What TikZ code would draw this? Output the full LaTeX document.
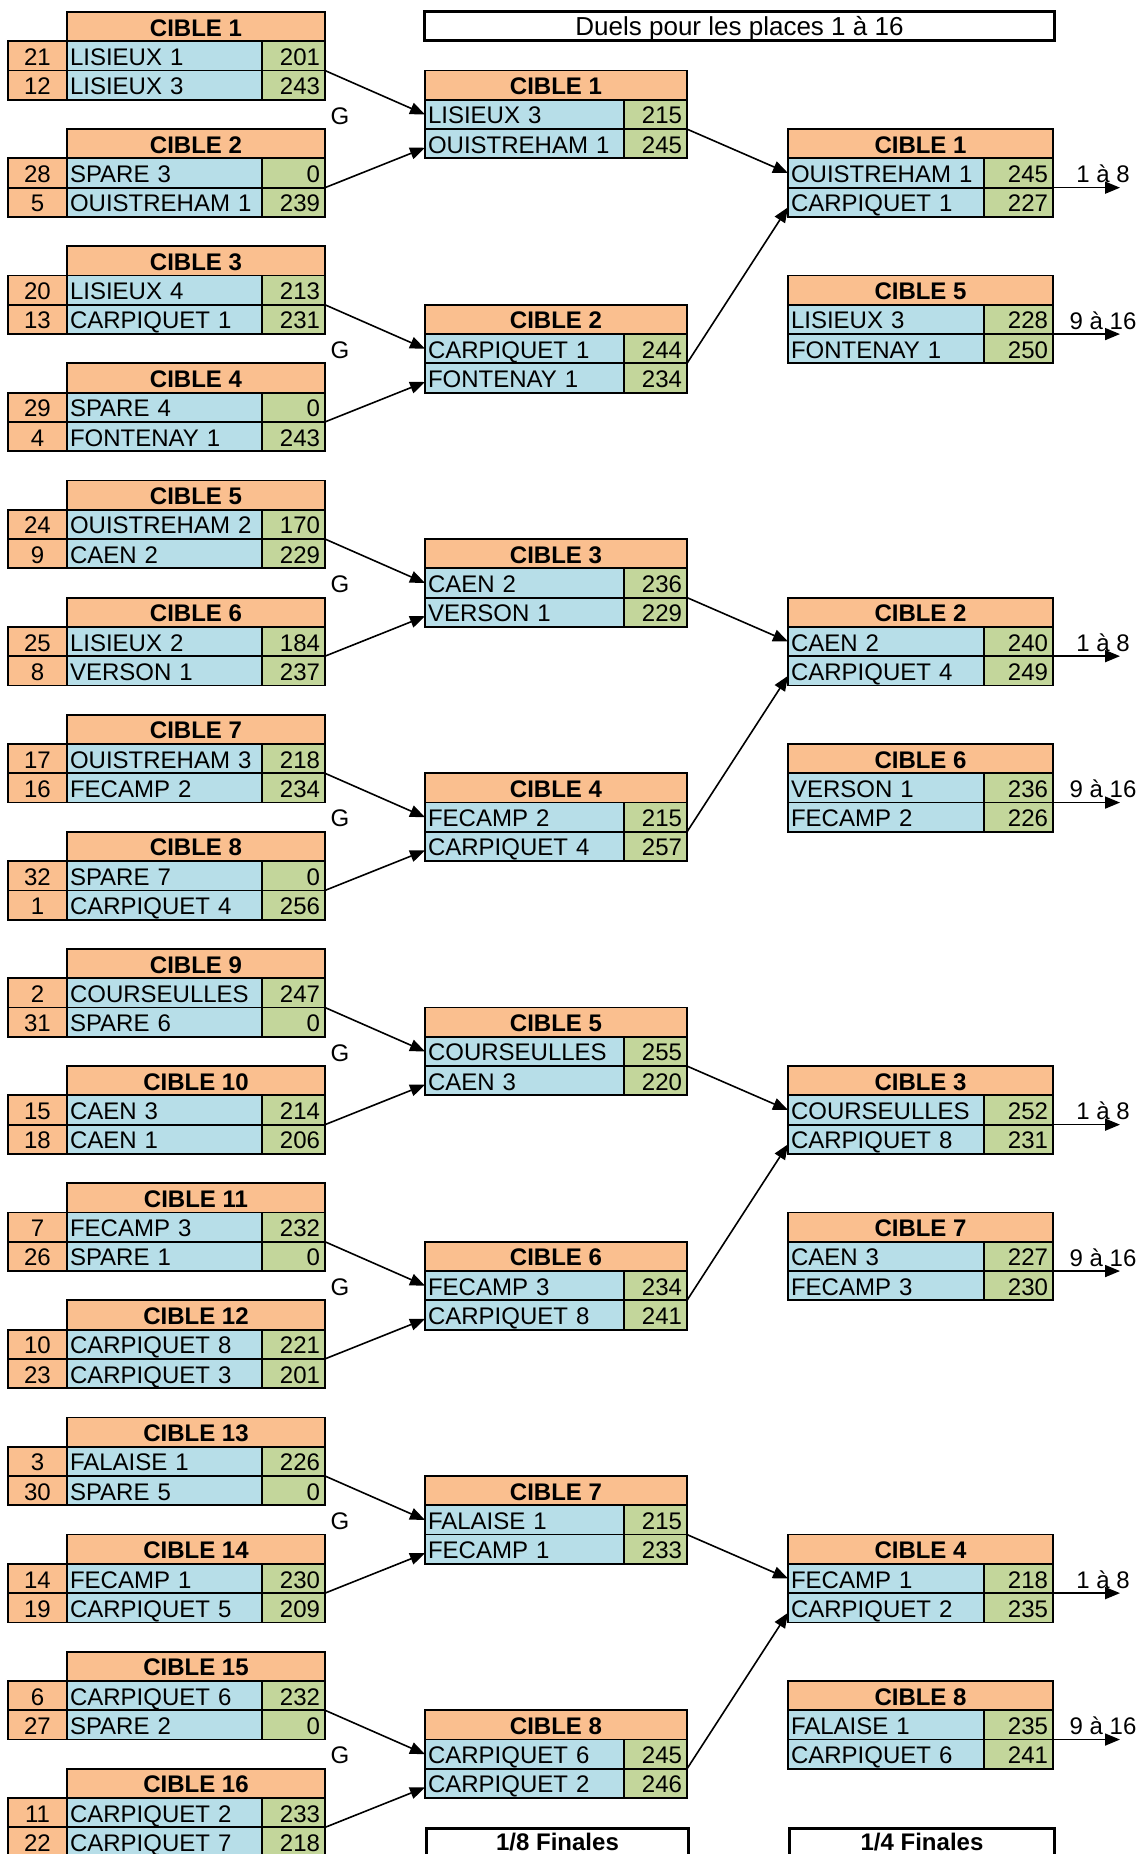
\documentclass[tikz,border=0pt]{standalone}
\usepackage{fontspec}
\setmainfont{Liberation Sans}
\usetikzlibrary{arrows.meta}
\definecolor{cor}{HTML}{FABF8F}
\definecolor{cbl}{HTML}{B7DEE8}
\definecolor{cgr}{HTML}{C3D69B}
\newcommand\myfs{\fontsize{24}{28}\selectfont}
\tikzset{
 cell/.style={draw=black, line width=1.8pt, minimum height=29.28pt, inner ysep=0pt, inner xsep=3pt,
   text height=19pt, text depth=0pt, font=\myfs, anchor=north west, outer sep=0pt},
 hd/.style={cell, fill=cor, font=\myfs\bfseries},
 sd/.style={cell, fill=cor, minimum width=59pt, align=center},
 nm/.style={cell, fill=cbl, align=left},
 sc/.style={cell, fill=cgr, align=right, inner xsep=5pt},
 arr/.style={line width=1.6pt, -{Triangle[length=15pt,width=12pt]}},
 plain/.style={font=\myfs, inner sep=0pt, minimum height=29.28pt, text height=19pt, text depth=0pt, anchor=north},
 frame/.style={draw=black, line width=3pt, inner sep=0pt, anchor=north west, text height=19pt, text depth=0pt},
}
% column 1 group: #1 index, #2 seed a, #3 name a, #4 score a, #5 seed b, #6 name b, #7 score b
\newcommand\grpA[7]{%
 \pgfmathsetmacro\yh{12+117.12*(#1-1)}%
 \pgfmathsetmacro\ya{\yh+29.28}%
 \pgfmathsetmacro\yb{\yh+58.56}%
 \node[hd, minimum width=258pt] (A#1h) at (67,\yh) {CIBLE #1};
 \node[sd] (A#1da) at (8,\ya) {#2};
 \node[nm, minimum width=195pt, text width=189pt] (A#1na) at (67,\ya) {#3};
 \node[sc, minimum width=63pt, text width=53pt] (A#1sa) at (262,\ya) {#4};
 \node[sd] (A#1db) at (8,\yb) {#5};
 \node[nm, minimum width=195pt, text width=189pt] (A#1nb) at (67,\yb) {#6};
 \node[sc, minimum width=63pt, text width=53pt] (A#1sb) at (262,\yb) {#7};
}
% column 2 group: #1 index, #2 name a, #3 score a, #4 name b, #5 score b
\newcommand\grpB[5]{%
 \pgfmathsetmacro\yh{12+29.28*(8*(#1-1)+2)}%
 \pgfmathsetmacro\ya{\yh+29.28}%
 \pgfmathsetmacro\yb{\yh+58.56}%
 \node[hd, minimum width=262pt] (B#1h) at (425,\yh) {CIBLE #1};
 \node[nm, minimum width=199pt, text width=193pt] (B#1na) at (425,\ya) {#2};
 \node[sc, minimum width=63pt, text width=53pt] (B#1sa) at (624,\ya) {#3};
 \node[nm, minimum width=199pt, text width=193pt] (B#1nb) at (425,\yb) {#4};
 \node[sc, minimum width=63pt, text width=53pt] (B#1sb) at (624,\yb) {#5};
}
% column 3 group: #1 id, #2 cible number, #3 header row, #4 name a, #5 score a, #6 name b, #7 score b
\newcommand\grpC[7]{%
 \pgfmathsetmacro\yh{12+29.28*(#3)}%
 \pgfmathsetmacro\ya{\yh+29.28}%
 \pgfmathsetmacro\yb{\yh+58.56}%
 \node[hd, minimum width=265pt] (C#1h) at (788,\yh) {CIBLE #2};
 \node[nm, minimum width=196pt, text width=190pt] (C#1na) at (788,\ya) {#4};
 \node[sc, minimum width=69pt, text width=59pt] (C#1sa) at (984,\ya) {#5};
 \node[nm, minimum width=196pt, text width=190pt] (C#1nb) at (788,\yb) {#6};
 \node[sc, minimum width=69pt, text width=59pt] (C#1sb) at (984,\yb) {#7};
}
\begin{document}
\begin{tikzpicture}[x=1pt,y=-1pt]
\useasboundingbox (0,0) rectangle (1144,1854);
\clip (0,0) rectangle (1144,1854);
\fill[white] (0,0) rectangle (1144,1854);

\node[frame, minimum width=630pt, minimum height=29pt, font=\fontsize{26}{30}\selectfont] (title) at (423,10) {Duels pour les places 1 à 16};

\grpA{1}{21}{LISIEUX 1}{201}{12}{LISIEUX 3}{243}
\grpA{2}{28}{SPARE 3}{0}{5}{OUISTREHAM 1}{239}
\grpA{3}{20}{LISIEUX 4}{213}{13}{CARPIQUET 1}{231}
\grpA{4}{29}{SPARE 4}{0}{4}{FONTENAY 1}{243}
\grpA{5}{24}{OUISTREHAM 2}{170}{9}{CAEN 2}{229}
\grpA{6}{25}{LISIEUX 2}{184}{8}{VERSON 1}{237}
\grpA{7}{17}{OUISTREHAM 3}{218}{16}{FECAMP 2}{234}
\grpA{8}{32}{SPARE 7}{0}{1}{CARPIQUET 4}{256}
\grpA{9}{2}{COURSEULLES}{247}{31}{SPARE 6}{0}
\grpA{10}{15}{CAEN 3}{214}{18}{CAEN 1}{206}
\grpA{11}{7}{FECAMP 3}{232}{26}{SPARE 1}{0}
\grpA{12}{10}{CARPIQUET 8}{221}{23}{CARPIQUET 3}{201}
\grpA{13}{3}{FALAISE 1}{226}{30}{SPARE 5}{0}
\grpA{14}{14}{FECAMP 1}{230}{19}{CARPIQUET 5}{209}
\grpA{15}{6}{CARPIQUET 6}{232}{27}{SPARE 2}{0}
\grpA{16}{11}{CARPIQUET 2}{233}{22}{CARPIQUET 7}{218}

\grpB{1}{LISIEUX 3}{215}{OUISTREHAM 1}{245}
\grpB{2}{CARPIQUET 1}{244}{FONTENAY 1}{234}
\grpB{3}{CAEN 2}{236}{VERSON 1}{229}
\grpB{4}{FECAMP 2}{215}{CARPIQUET 4}{257}
\grpB{5}{COURSEULLES}{255}{CAEN 3}{220}
\grpB{6}{FECAMP 3}{234}{CARPIQUET 8}{241}
\grpB{7}{FALAISE 1}{215}{FECAMP 1}{233}
\grpB{8}{CARPIQUET 6}{245}{CARPIQUET 2}{246}

\grpC{u1}{1}{4}{OUISTREHAM 1}{245}{CARPIQUET 1}{227}
\grpC{l1}{5}{9}{LISIEUX 3}{228}{FONTENAY 1}{250}
\grpC{u2}{2}{20}{CAEN 2}{240}{CARPIQUET 4}{249}
\grpC{l2}{6}{25}{VERSON 1}{236}{FECAMP 2}{226}
\grpC{u3}{3}{36}{COURSEULLES}{252}{CARPIQUET 8}{231}
\grpC{l3}{7}{41}{CAEN 3}{227}{FECAMP 3}{230}
\grpC{u4}{4}{52}{FECAMP 1}{218}{CARPIQUET 2}{235}
\grpC{l4}{8}{57}{FALAISE 1}{235}{CARPIQUET 6}{241}

% G labels and arrows col1 -> col2
\foreach \k in {1,...,8}{
  \pgfmathtruncatemacro\i{2*\k-1}
  \pgfmathtruncatemacro\ii{2*\k}
  \pgfmathsetmacro\yg{12+29.28*(8*(\k-1)+3)}
  \node[plain] (G\k) at (340,\yg) {G};
  \draw[arr] (A\i sa.south east) -- (B\k na.west);
  \draw[arr] (A\ii sa.south east) -- ([yshift=-4pt]B\k nb.west);
}
% arrows col2 -> col3
\foreach \j in {1,...,4}{
  \pgfmathtruncatemacro\i{2*\j-1}
  \pgfmathtruncatemacro\ii{2*\j}
  \draw[arr] (B\i sa.south east) -- (Cu\j na.west);
  \draw[arr] (B\ii sa.south east) -- ([yshift=-5pt]Cu\j nb.west);
}
% outgoing arrows
\foreach \j in {1,...,4}{
  \coordinate (Ou\j) at ([xshift=67pt]Cu\j sa.south east);
  \draw[arr] (Cu\j sa.south east) -- (Ou\j);
  \node[plain] (Lu\j) at ([xshift=50pt]Cu\j sa.north east) {1 à 8};
  \coordinate (Ol\j) at ([xshift=67pt]Cl\j sa.south east);
  \draw[arr] (Cl\j sa.south east) -- (Ol\j);
  \node[plain] (Ll\j) at ([xshift=50pt]Cl\j sa.north east) {9 à 16};
}

\node[frame, minimum width=262pt, minimum height=29.28pt, text height=15pt, font=\myfs\bfseries] (f8) at (425,1827) {1/8 Finales};
\node[frame, minimum width=265pt, minimum height=29.28pt, text height=15pt, font=\myfs\bfseries] (f4) at (788,1827) {1/4 Finales};
\end{tikzpicture}
\end{document}
